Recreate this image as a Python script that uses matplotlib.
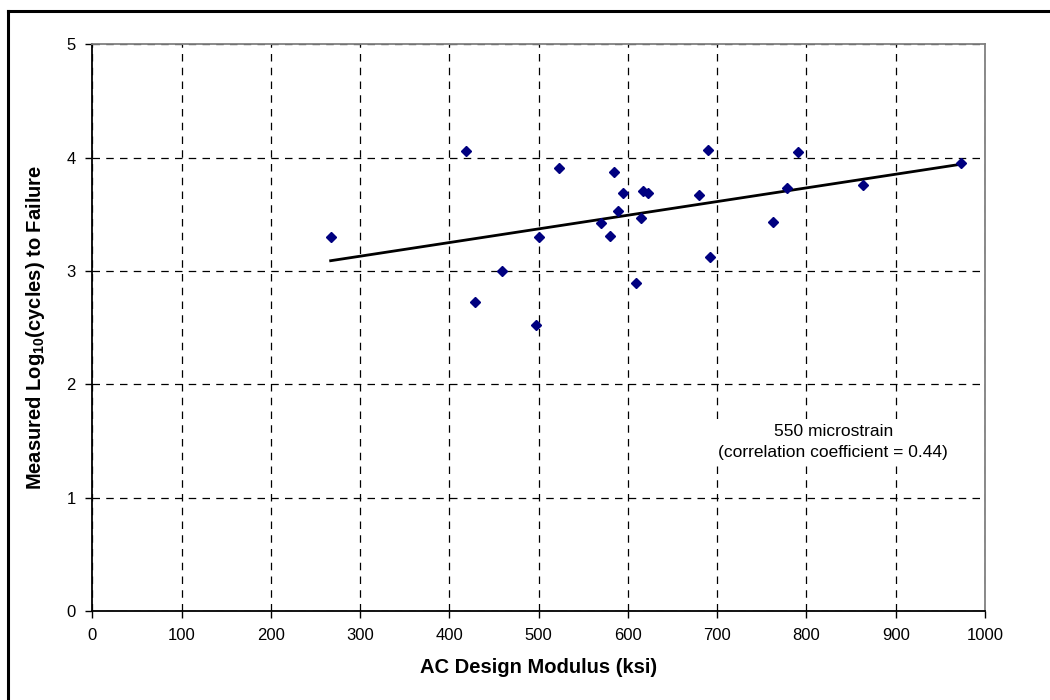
import numpy as np
import matplotlib
matplotlib.use("Agg")
import matplotlib.pyplot as plt
from matplotlib.lines import Line2D

plt.rcParams['font.family'] = ['Liberation Sans', 'DejaVu Sans']
plt.rcParams['mathtext.fontset'] = 'custom'
plt.rcParams['mathtext.rm'] = 'Liberation Sans:bold'

# AC design modulus (ksi) and measured log10 cycles to failure, 550 microstrain
modulus = [267, 419, 523, 584, 595, 589, 570, 580, 500, 615, 617, 623,
           459, 429, 497, 609, 690, 790, 973, 863, 778, 680, 763, 692]
log_cycles = [3.30, 4.06, 3.91, 3.87, 3.69, 3.53, 3.42, 3.31, 3.30, 3.47, 3.71, 3.69,
              3.00, 2.73, 2.52, 2.89, 4.07, 4.05, 3.95, 3.76, 3.73, 3.67, 3.43, 3.12]

x_ticks = [0, 100, 200, 300, 400, 500, 600, 700, 800, 900, 1000]
y_ticks = [0, 1, 2, 3, 4, 5]

note_lines = ["550 microstrain", "(correlation coefficient = 0.44)"]

x = np.array(modulus, dtype=float)
y = np.array(log_cycles, dtype=float)

# linear trend
slope, intercept = np.polyfit(x, y, 1)
xfit = np.array([x.min(), x.max()])
yfit = slope * xfit + intercept

fig = plt.figure(figsize=(10.5, 7), dpi=100)
ax = fig.add_axes([0.0879, 0.1271, 0.8502, 0.8096])

ax.plot(xfit, yfit, color='black', lw=2.0, zorder=3)
ax.plot(x, y, ls='none', marker='D', ms=5.2, color='#000080', mec='#000080', zorder=4)

ax.set_xlim(0, 1000)
ax.set_ylim(0, 5)
ax.set_xticks(x_ticks)
ax.set_yticks(y_ticks)
ax.tick_params(axis='both', direction='out', length=5, width=1, labelsize=12, pad=7)

ax.grid(True, color='black', ls=(0, (6, 5)), lw=0.9)
ax.set_axisbelow(True)

for side in ['left', 'bottom']:
    ax.spines[side].set_color('black')
    ax.spines[side].set_linewidth(1.3)
for side in ['top', 'right']:
    ax.spines[side].set_color('#808080')
    ax.spines[side].set_linewidth(1.3)

ax.set_xlabel('AC Design Modulus (ksi)', fontsize=14.5, fontweight='bold', labelpad=11)
ax.set_ylabel(r'Measured Log$_{10}$(cycles) to Failure', fontsize=14.5, fontweight='bold', labelpad=14)

ax.text(830, 1.49, "\n".join(note_lines), ha='center', va='center', fontsize=12.5,
        linespacing=1.45, zorder=5,
        bbox=dict(facecolor='white', edgecolor='none', pad=4))

# outer chart frame (only the left and top edges show)
fig.add_artist(Line2D([0.0079, 0.0079], [0, 0.985], transform=fig.transFigure,
                      color='black', lw=2.2))
fig.add_artist(Line2D([0.0079, 1.0], [0.985, 0.985], transform=fig.transFigure,
                      color='black', lw=2.2))

fig.savefig('out.png', dpi=100)
